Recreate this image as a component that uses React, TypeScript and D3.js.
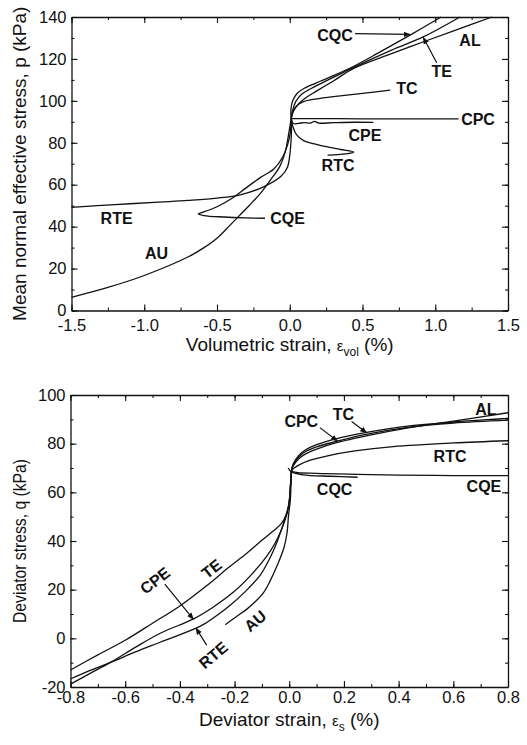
import React, { useEffect, useRef } from 'react';
import * as d3 from 'd3';

type Pt = [number, number];

// ---- top panel: volumetric strain (%) vs mean normal effective stress p (kPa)
const volAL: Pt[] = [[0.01, 91.5], [0.025, 95], [0.06, 98.5], [0.11, 101.5], [0.18, 104.5], [0.3, 109.5], [0.44, 115.5], [0.7, 122.5], [0.92, 128.2], [1.15, 134], [1.39, 140]];
const volTE: Pt[] = [[0.01, 91.5], [0.018, 95], [0.04, 99.5], [0.08, 103], [0.15, 106], [0.25, 109.5], [0.44, 116], [0.7, 124.2], [0.92, 130.6], [1.17, 140]];
const volCQC: Pt[] = [[0.01, 91.5], [0.008, 96], [0.02, 100], [0.05, 103.5], [0.1, 106], [0.18, 108.5], [0.3, 112], [0.44, 116.5], [0.6, 122.5], [0.83, 131.5], [1.04, 140]];
const volTC: Pt[] = [[0.01, 91.5], [0.02, 94.5], [0.045, 97.5], [0.09, 99.5], [0.16, 100.7], [0.3, 102], [0.5, 103.6], [0.69, 105.1]];
const volCPC: Pt[] = [[0.01, 91.5], [0.3, 91.5], [0.6, 91.4], [0.9, 91.4], [1.16, 91.4]];
const volCPE: Pt[] = [[0.01, 91.5], [0.025, 89.2], [0.06, 89.3], [0.1, 89.6], [0.14, 89.4], [0.17, 90.2], [0.2, 89.4], [0.3, 89.6], [0.45, 89.8], [0.575, 89.7]];
const volRTC: Pt[] = [[0.01, 91.5], [0.02, 88], [0.045, 84], [0.095, 81], [0.17, 79.5], [0.26, 78], [0.35, 76.8], [0.44, 75.6], [0.4, 74.8], [0.33, 74.4], [0.26, 74.1]];
const volRTE: Pt[] = [[0.01, 91.5], [0.012, 86], [0.008, 80], [0.0, 74], [-0.015, 68.5], [-0.06, 64], [-0.18, 59], [-0.34, 55.2], [-0.5, 53.6], [-0.7, 52.5], [-0.9, 51.7], [-1.2, 50.5], [-1.5, 49.2]];
const volCQE: Pt[] = [[0.01, 91.5], [0.004, 85], [-0.015, 79], [-0.05, 73], [-0.11, 67.5], [-0.2, 63.5], [-0.3, 58.5], [-0.385, 54], [-0.5, 49.5], [-0.6, 46.8], [-0.63, 46.1], [-0.59, 45.3], [-0.45, 44.6], [-0.3, 44.2], [-0.17, 44]];
const volAU: Pt[] = [[0.01, 91.5], [-0.008, 84], [-0.03, 76], [-0.07, 68.5], [-0.13, 62.5], [-0.2, 56], [-0.28, 50], [-0.35, 45], [-0.42, 40], [-0.5, 34.5], [-0.6, 29.5], [-0.7, 25.5], [-1.0, 16.7], [-1.25, 11], [-1.5, 6.3]];

const volXTicks = [-1.5, -1.0, -0.5, 0.0, 0.5, 1.0, 1.5];
const volXMinor = [-1.5, -1.25, -1.0, -0.75, -0.5, -0.25, 0, 0.25, 0.5, 0.75, 1.0, 1.25, 1.5];
const volYTicks = [0, 20, 40, 60, 80, 100, 120, 140];
const volYMinor = [0, 10, 20, 30, 40, 50, 60, 70, 80, 90, 100, 110, 120, 130, 140];

// ---- bottom panel: deviator strain (%) vs deviator stress q (kPa)
const devAL: Pt[] = [[0.008, 69], [0.015, 71], [0.035, 73.8], [0.06, 75.8], [0.1, 77.8], [0.17, 80.3], [0.3, 83.6], [0.44, 86.6], [0.6, 89.3], [0.8, 92.7]];
const devTC: Pt[] = [[0.008, 69], [0.015, 71.8], [0.035, 75.2], [0.06, 77.5], [0.1, 79.6], [0.17, 82], [0.283, 84.6], [0.44, 87.3], [0.6, 88.9], [0.8, 90.4]];
const devCPC: Pt[] = [[0.008, 69], [0.015, 71.4], [0.035, 74.6], [0.06, 76.8], [0.1, 78.7], [0.176, 81], [0.28, 83.8], [0.44, 86.8], [0.6, 88.5], [0.8, 89.7]];
const devRTC: Pt[] = [[0.008, 69], [0.018, 70], [0.04, 71.5], [0.08, 73.3], [0.14, 75], [0.24, 77], [0.38, 78.8], [0.6, 80.3], [0.8, 81.2]];
const devCQE: Pt[] = [[0.008, 69], [0.02, 68.3], [0.1, 67.8], [0.25, 67.4], [0.4, 67.1], [0.6, 66.9], [0.8, 66.9]];
const devCQC: Pt[] = [[-0.004, 70], [0.008, 68.4], [0.05, 67.2], [0.15, 66.6], [0.25, 66.2]];
const devTE: Pt[] = [[0.008, 69], [0.004, 62], [0.0, 56], [-0.01, 51], [-0.03, 47], [-0.06, 44], [-0.1, 40.3], [-0.155, 35], [-0.22, 29.3], [-0.3, 21.8], [-0.4, 13.3], [-0.5, 6.2], [-0.6, -0.8], [-0.7, -6.8], [-0.8, -13]];
const devCPE: Pt[] = [[0.008, 69], [0.004, 62], [0.0, 56], [-0.01, 50.5], [-0.027, 45], [-0.05, 39.5], [-0.082, 33.8], [-0.14, 26], [-0.204, 19], [-0.28, 12.7], [-0.35, 8], [-0.47, 2.2], [-0.56, -3.5], [-0.654, -9.9], [-0.73, -14.5], [-0.8, -18.8]];
const devRTE: Pt[] = [[0.008, 69], [0.004, 62], [-0.002, 55], [-0.015, 49.5], [-0.045, 39.5], [-0.075, 32], [-0.106, 26], [-0.16, 19.3], [-0.216, 13.6], [-0.27, 9], [-0.325, 5], [-0.47, -1.5], [-0.56, -5.5], [-0.654, -9.9], [-0.73, -13.3], [-0.8, -16.7]];
const devAU: Pt[] = [[0.008, 69], [0.006, 62], [0.004, 57], [-0.003, 50], [-0.008, 43.4], [-0.02, 37], [-0.045, 29.7], [-0.07, 23.6], [-0.094, 18.8], [-0.125, 15], [-0.155, 12], [-0.195, 8.8], [-0.234, 5.6]];

const devXTicks = [-0.8, -0.6, -0.4, -0.2, 0.0, 0.2, 0.4, 0.6, 0.8];
const devXMinor = [-0.8, -0.7, -0.6, -0.5, -0.4, -0.3, -0.2, -0.1, 0, 0.1, 0.2, 0.3, 0.4, 0.5, 0.6, 0.7, 0.8];
const devYTicks = [-20, 0, 20, 40, 60, 80, 100];
const devYMinor = [-20, -10, 0, 10, 20, 30, 40, 50, 60, 70, 80, 90, 100];

const FONT = "'Liberation Sans', Arial, Helvetica, sans-serif";

interface Note { text: string; at: Pt; rotate?: number; arrow?: [Pt, Pt] }

interface Panel {
    xDomain: [number, number];
    yDomain: [number, number];
    box: { left: number; right: number; top: number; bottom: number };
    xTicks: number[]; xMinor: number[];
    yTicks: number[]; yMinor: number[];
    xFmt: (d: number) => string;
    xPad: number;
    curves: Pt[][];
    notes: Note[];
    xTitle: [string, string, string];
    xTitleY: number;
    yTitle: string;
    yTitleLen?: number;
}

const panels: Panel[] = [
    {
        xDomain: [-1.5, 1.5], yDomain: [0, 140],
        box: { left: 71.5, right: 508, top: 17, bottom: 310.5 },
        xTicks: volXTicks, xMinor: volXMinor, yTicks: volYTicks, yMinor: volYMinor,
        xFmt: d => d.toFixed(1), xPad: 9,
        curves: [volAL, volTE, volCQC, volTC, volCPC, volCPE, volRTC, volRTE, volCQE, volAU],
        notes: [
            { text: 'CQC', at: [0.311, 131.4], arrow: [[0.449, 132.1], [0.826, 131.7]] },
            { text: 'AL', at: [1.239, 129] },
            { text: 'TE', at: [1.044, 113.9], arrow: [[1.01, 118.2], [0.918, 130.2]] },
            { text: 'TC', at: [0.806, 105.9] },
            { text: 'CPC', at: [1.294, 91.3] },
            { text: 'CPE', at: [0.517, 83.6] },
            { text: 'RTC', at: [0.332, 69.3] },
            { text: 'RTE', at: [-1.19, 43.8] },
            { text: 'CQE', at: [-0.015, 43.8] },
            { text: 'AU', at: [-0.915, 27.1] },
        ],
        xTitle: ['Volumetric strain, ', 'vol', ' (%)'], xTitleY: 351,
        yTitle: 'Mean normal effective stress, p (kPa)',
    },
    {
        xDomain: [-0.8, 0.8], yDomain: [-20, 100],
        box: { left: 70.5, right: 508, top: 395, bottom: 687 },
        xTicks: devXTicks, xMinor: devXMinor, yTicks: devYTicks, yMinor: devYMinor,
        xFmt: d => d.toFixed(1), xPad: 4,
        curves: [devAL, devTC, devCPC, devRTC, devCQE, devCQC, devTE, devCPE, devRTE, devAU],
        notes: [
            { text: 'AL', at: [0.719, 94.2] },
            { text: 'TC', at: [0.198, 92.1], arrow: [[0.228, 89.1], [0.283, 84.5]] },
            { text: 'CPC', at: [0.044, 89.4], arrow: [[0.112, 86.6], [0.176, 81.1]] },
            { text: 'RTC', at: [0.588, 75] },
            { text: 'CQC', at: [0.166, 61.4] },
            { text: 'CQE', at: [0.712, 62.3] },
            { text: 'TE', at: [-0.284, 28.6], rotate: -38 },
            { text: 'CPE', at: [-0.491, 23.8], rotate: -38, arrow: [[-0.455, 22.3], [-0.351, 7.9]] },
            { text: 'RTE', at: [-0.278, -6.9], rotate: -40, arrow: [[-0.302, -2.8], [-0.341, 4.2]] },
            { text: 'AU', at: [-0.125, 7.2], rotate: -40 },
        ],
        xTitle: ['Deviator strain, ', 's', ' (%)'], xTitleY: 726,
        yTitle: 'Deviator stress, q (kPa)', yTitleLen: 164,
    },
];

const drawPanel = (svg: d3.Selection<SVGSVGElement, unknown, null, undefined>, p: Panel) => {
    const { left, right, top, bottom } = p.box;
    const x = d3.scaleLinear().domain(p.xDomain).range([left, right]);
    const y = d3.scaleLinear().domain(p.yDomain).range([bottom, top]);
    const g = svg.append('g');

    // axes on all four sides, ticks pointing inward
    const axes: [any, string, boolean][] = [
        [d3.axisBottom(x), `translate(0,${bottom})`, true],
        [d3.axisTop(x), `translate(0,${top})`, false],
        [d3.axisLeft(y), `translate(${left},0)`, true],
        [d3.axisRight(y), `translate(${right},0)`, false],
    ];
    axes.forEach(([axis, tr, labelled], i) => {
        const isX = i < 2;
        // minor ticks
        g.append('g').attr('transform', tr)
            .call(axis.tickValues(isX ? p.xMinor : p.yMinor).tickSize(-3).tickSizeOuter(0).tickFormat(() => ''))
            .call((s: any) => s.select('.domain').remove());
        // major ticks
        const ag = g.append('g').attr('transform', tr)
            .call(axis.tickValues(isX ? p.xTicks : p.yTicks).tickSize(-6).tickSizeOuter(0)
                .tickPadding(isX ? p.xPad : 5)
                .tickFormat(labelled ? (isX ? p.xFmt : (d: number) => String(d)) : () => ''));
        ag.attr('font-family', FONT).attr('font-size', 16.5);
        ag.selectAll('line').attr('stroke', '#111').attr('stroke-width', 1.1);
        ag.select('.domain').attr('stroke', '#111').attr('stroke-width', 1.3);
        ag.selectAll('text').attr('fill', '#111');
    });

    const line = d3.line<Pt>()
        .x(d => x(d[0]))
        .y(d => y(d[1]))
        .curve(d3.curveCatmullRom.alpha(0.5));

    g.append('g')
        .selectAll('path')
        .data(p.curves)
        .enter().append('path')
        .attr('d', d => line(d))
        .attr('fill', 'none')
        .attr('stroke', '#111')
        .attr('stroke-width', 1.3);

    // curve labels and pointer arrows
    p.notes.forEach(n => {
        if (n.arrow) {
            g.append('line')
                .attr('x1', x(n.arrow[0][0])).attr('y1', y(n.arrow[0][1]))
                .attr('x2', x(n.arrow[1][0])).attr('y2', y(n.arrow[1][1]))
                .attr('stroke', '#111').attr('stroke-width', 1.2)
                .attr('marker-end', 'url(#arrowhead)');
        }
        const cx = x(n.at[0]);
        const cy = y(n.at[1]);
        g.append('text')
            .attr('x', cx).attr('y', cy)
            .attr('dy', '0.36em')
            .attr('text-anchor', 'middle')
            .attr('transform', n.rotate ? `rotate(${n.rotate},${cx},${cy})` : null)
            .attr('font-family', FONT).attr('font-size', 16).attr('font-weight', 'bold')
            .attr('fill', '#111')
            .text(n.text);
    });

    // axis titles
    const xt = g.append('text')
        .attr('x', (left + right) / 2).attr('y', p.xTitleY)
        .attr('text-anchor', 'middle')
        .attr('font-family', FONT).attr('font-size', 19).attr('fill', '#111');
    xt.append('tspan').text(p.xTitle[0]);
    xt.append('tspan').attr('font-size', 15).text('\u03b5');
    xt.append('tspan').attr('font-size', 12).attr('dy', 5).text(p.xTitle[1]);
    xt.append('tspan').attr('dy', -5).text(p.xTitle[2]);

    const yt = g.append('text')
        .attr('transform', `translate(19,${(top + bottom) / 2}) rotate(-90)`)
        .attr('text-anchor', 'middle')
        .attr('dy', '0.35em')
        .attr('font-family', FONT).attr('font-size', 19).attr('fill', '#111')
        .text(p.yTitle);
    if (p.yTitleLen) {
        yt.attr('textLength', p.yTitleLen).attr('lengthAdjust', 'spacingAndGlyphs');
    }
};

const App = () => {
    const ref = useRef<SVGSVGElement>(null);

    useEffect(() => {
        if (!ref.current) return;
        const svg = d3.select(ref.current);
        svg.selectAll('*').remove();

        svg.append('defs').append('marker')
            .attr('id', 'arrowhead')
            .attr('viewBox', '0 0 10 10')
            .attr('refX', 9).attr('refY', 5)
            .attr('markerWidth', 7).attr('markerHeight', 7)
            .attr('markerUnits', 'userSpaceOnUse')
            .attr('orient', 'auto')
            .append('path')
            .attr('d', 'M0,1 L10,5 L0,9 Z')
            .attr('fill', '#111');

        panels.forEach(p => drawPanel(svg, p));
    }, []);

    return (
        <svg ref={ref} width={527} height={745}
            style={{ position: 'absolute', left: 0, top: 0, background: '#fff' }} />
    );
};

export default App;
